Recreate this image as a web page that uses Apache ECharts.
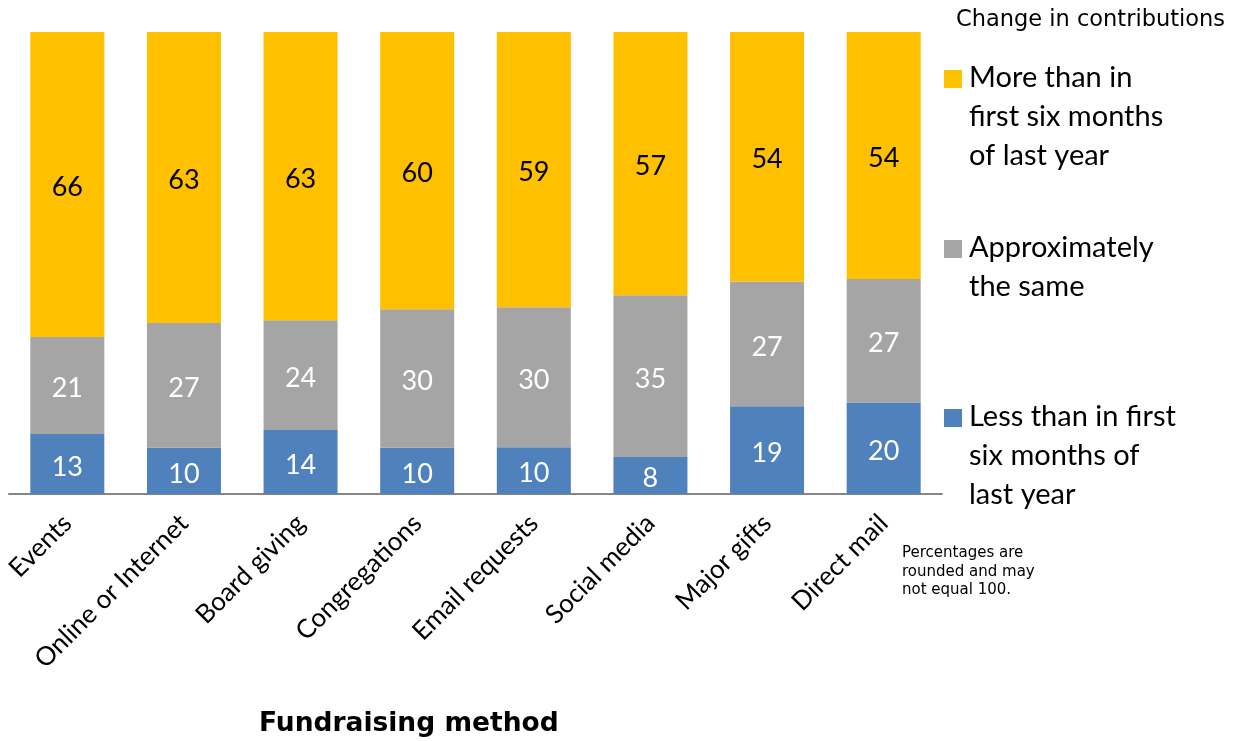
<!DOCTYPE html>
<html><head><meta charset="utf-8">
<script src="https://cdn.jsdelivr.net/npm/echarts@6/dist/echarts.min.js"></script>
<style>html,body{margin:0;padding:0;background:#fff}#c{width:1248px;height:741px}</style>
</head><body><div id="c"></div>
<script>
const categories = ["Events","Online or Internet","Board giving","Congregations","Email requests","Social media","Major gifts","Direct mail"];
const lessValues = [13,10,14,10,10,8,19,20];
const sameValues = [21,27,24,30,30,35,27,27];
const moreValues = [66,63,63,60,59,57,54,54];
const seriesNames = ["Less than in first\nsix months of\nlast year","Approximately\nthe same","More than in\nfirst six months\nof last year"];
const legendTitle = "Change in contributions";
const axisTitle = "Fundraising method";
const footnote = "Percentages are\nrounded and may\nnot equal 100.";

const colors = ["#4F81BD","#A5A5A5","#FFC000"];
const raw = [lessValues, sameValues, moreValues];
const totals = categories.map((_, i) => lessValues[i] + sameValues[i] + moreValues[i]);
const labelColors = ["#fff","#fff","#000"];
const FONT = "Lato";

const series = raw.map((arr, s) => ({
  name: seriesNames[s],
  type: 'bar',
  stack: 'all',
  barWidth: 74,
  itemStyle: {color: colors[s]},
  label: {
    show: true, position: 'inside', color: labelColors[s],
    fontFamily: FONT, fontSize: 27, offset: [0, 3],
    formatter: p => String(arr[p.dataIndex])
  },
  data: arr.map((v, i) => v / totals[i] * 100)
}));

const legendTops = [58, 228, 397];
const legendOrder = [2, 1, 0];
const graphic = [];
legendOrder.forEach((s, k) => {
  graphic.push({type:'rect', left: 944, top: legendTops[k] + 12, shape:{width:18,height:18}, style:{fill: colors[s]}});
  graphic.push({type:'text', left: 969, top: legendTops[k], style:{text: seriesNames[s], font: '29px ' + FONT, fill:'#000', lineHeight: 39}});
});
graphic.push({type:'text', left: 956, top: 9, style:{text: legendTitle, font: '22.5px "DejaVu Sans"', fill:'#000'}});
graphic.push({type:'text', left: 902, top: 544, style:{text: footnote, font: '15px "DejaVu Sans"', fill:'#000', lineHeight: 18.5}});
graphic.push({type:'text', left: 259, top: 711, style:{text: axisTitle, font: 'bold 26.5px "DejaVu Sans"', fill:'#000'}});

const chart = echarts.init(document.getElementById('c'));
chart.setOption({
  animation: false,
  grid: {left: 9, right: 306, top: 32, bottom: 247, containLabel: false},
  xAxis: {
    type: 'category', data: categories,
    axisLine: {lineStyle: {color: '#868686', width: 2}},
    axisTick: {show: false},
    axisLabel: {rotate: 45, interval: 0, margin: 25, color: '#000', fontFamily: FONT, fontSize: 26}
  },
  yAxis: {type: 'value', min: 0, max: 100, show: false, splitLine: {show: false}},
  series: series,
  graphic: graphic
});
</script></body></html>
